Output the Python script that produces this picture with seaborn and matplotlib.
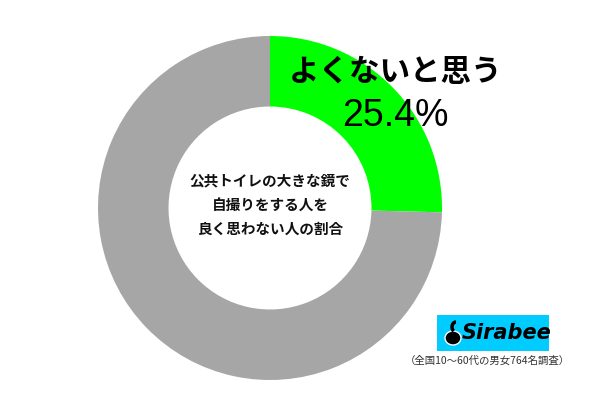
import matplotlib.pyplot as plt
import matplotlib.patches as mpatches
import seaborn as sns

# Data
labels = ['よくないと思う', 'その他']
values = [25.4, 74.6]
slice_colors = ['#00FF00', '#A6A6A6']
center_text = '公共トイレの大きな鏡で\n自撮りをする人を\n良く思わない人の割合'
highlight_label = 'よくないと思う'
highlight_value = '25.4%'
note = '（全国10〜60代の男女764名調査）'

sns.set_theme(style='white')
plt.rcParams['font.family'] = ['Noto Sans CJK JP', 'DejaVu Sans']

fig = plt.figure(figsize=(6, 4), dpi=100)
fig.patch.set_facecolor('white')

# donut axes, placed in pixel terms
ax = fig.add_axes([98 / 600, 20 / 400, 344 / 600, 344 / 400])
ax.pie(values, colors=slice_colors, startangle=90, counterclock=False,
       wedgeprops=dict(width=0.41, edgecolor='none'))
ax.set_aspect('equal')
ax.set_xlim(-1, 1)
ax.set_ylim(-1, 1)
ax.axis('off')

# centre caption
ax.text(0, 0.02, center_text, ha='center', va='center', fontsize=10.5,
        fontweight='bold', color='#111111', linespacing=1.6)

# highlight label and value
fig.text(395 / 600, 1 - 72 / 400, highlight_label, ha='center', va='center',
         fontsize=22, fontweight='bold', color='black')
fig.text(395 / 600, 1 - 116 / 400, highlight_value, ha='center', va='center',
         fontsize=27, color='black', family=['Liberation Sans', 'DejaVu Sans'])

# Sirabee logo box
logo = mpatches.Rectangle((437 / 600, 1 - 351 / 400), 112 / 600, 36 / 400,
                          transform=fig.transFigure, facecolor='#00CCFF',
                          edgecolor='none')
fig.patches.append(logo)
# simple swirl icon
body = mpatches.Ellipse((453 / 600, 1 - 338 / 400), 16 / 600, 14 / 400,
                        transform=fig.transFigure, facecolor='black')
fig.patches.append(body)
hook = mpatches.Arc((456 / 600, 1 - 327 / 400), 8 / 600, 10 / 400,
                    theta1=90, theta2=250, transform=fig.transFigure,
                    color='black', linewidth=2.5)
fig.patches.append(hook)
fig.text(507 / 600, 1 - 333 / 400, 'Sirabee', ha='center', va='center',
         fontsize=15, fontweight='bold', style='italic', color='black',
         family=['DejaVu Sans'])

fig.text(487 / 600, 1 - 361 / 400, note, ha='center', va='center',
         fontsize=7.5, color='#333333')

fig.savefig('out.png', dpi=100, facecolor='white')
